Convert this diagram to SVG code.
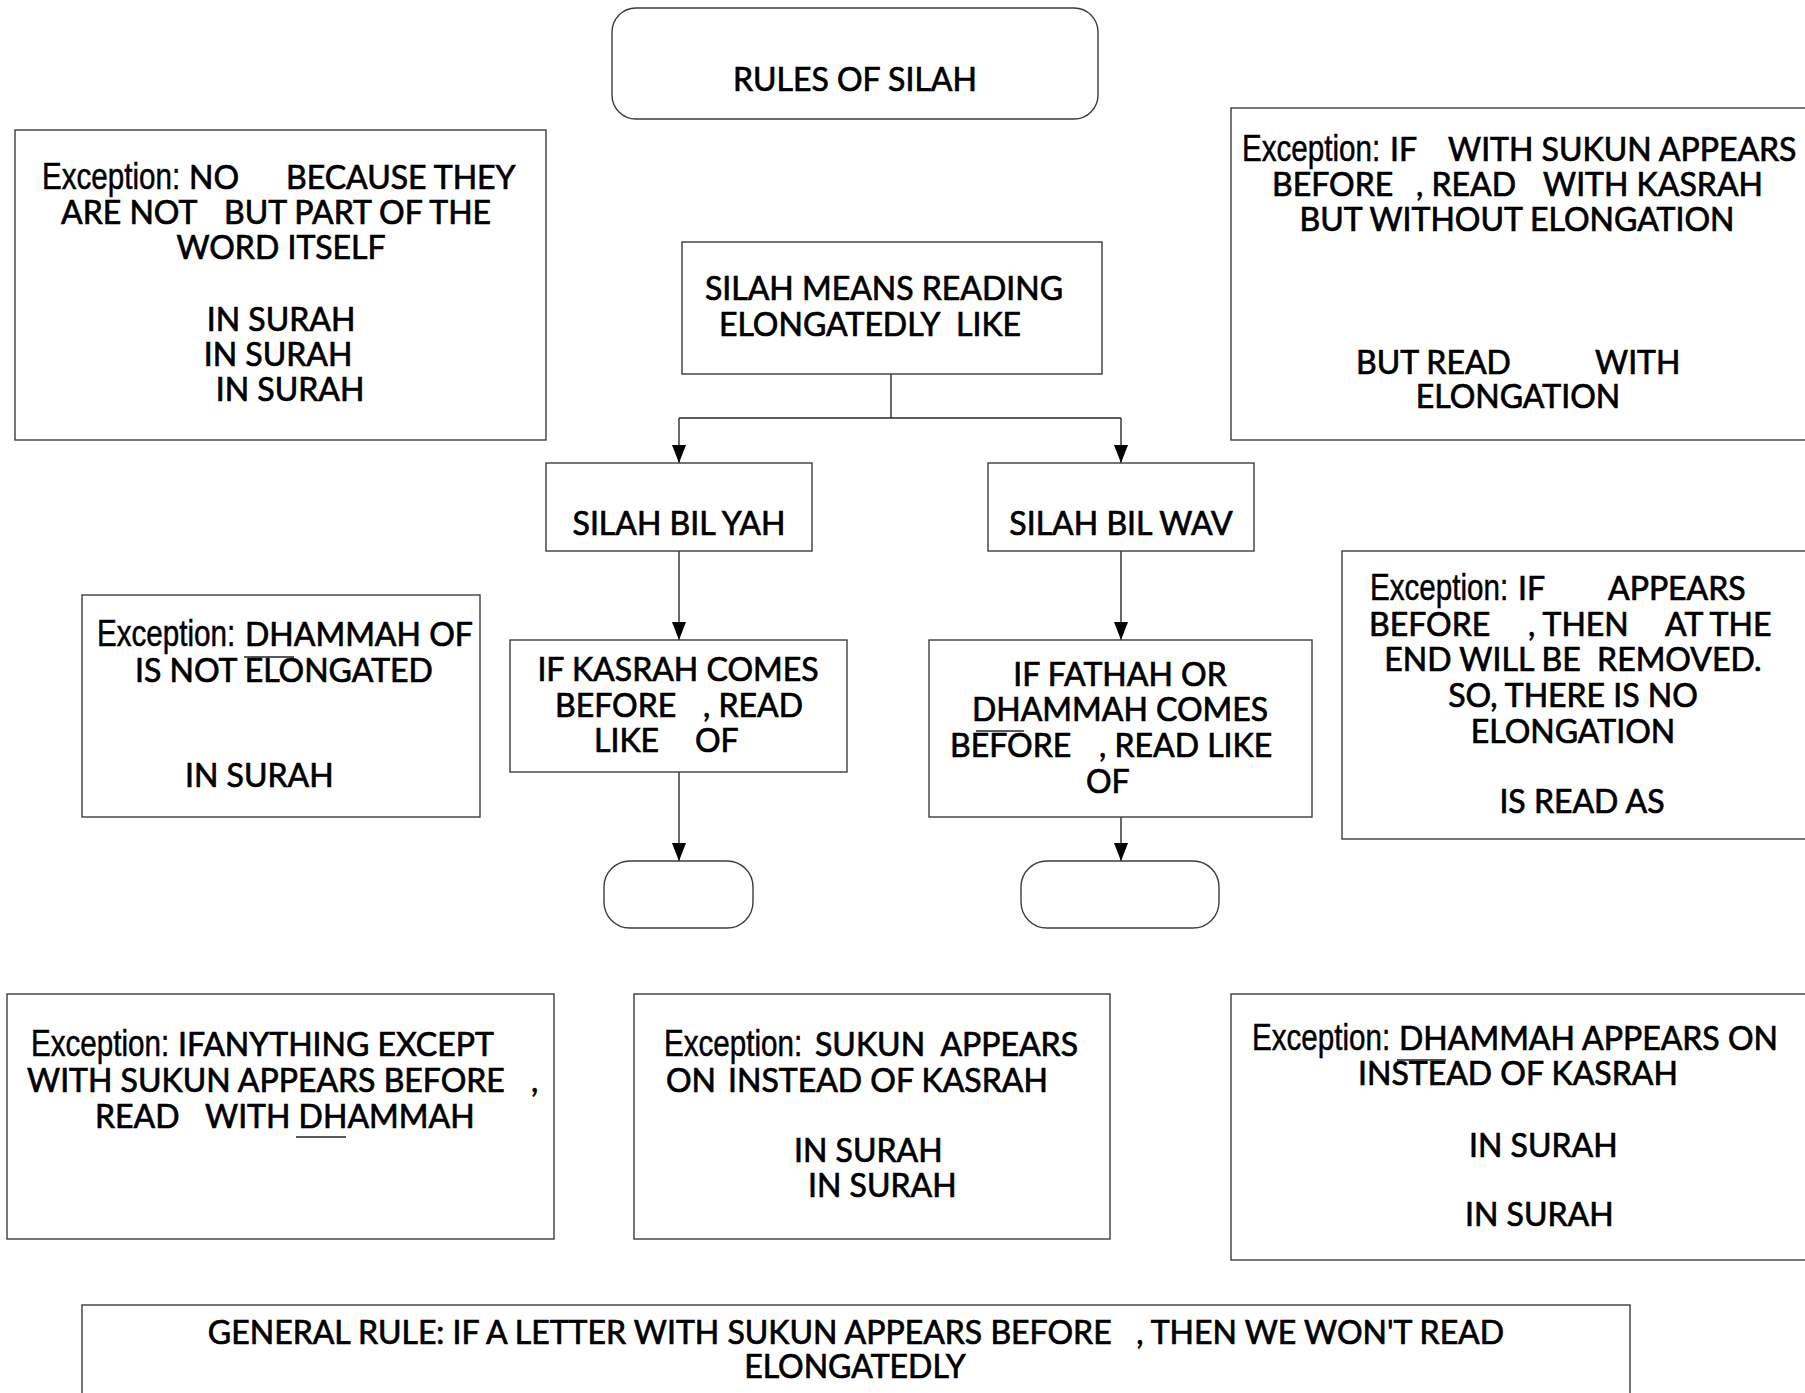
<svg xmlns="http://www.w3.org/2000/svg" width="1805" height="1393" viewBox="0 0 1805 1393">
  <style>
    .box { fill: #ffffff; stroke: #3c3c3c; stroke-width: 1.4; }
    .conn { fill: none; stroke: #2a2a2a; stroke-width: 1.4; }
    .mark { fill: none; stroke: #222222; stroke-width: 1.3; }
    text { font-family: Lato, "Liberation Sans", sans-serif; font-size: 32px; fill: #000000; stroke: #000000; stroke-width: 0.7px; }
    .c { text-anchor: middle; }
    .ex { font-family: "Liberation Sans", Arimo, sans-serif; font-size: 37px; stroke-width: 0.5px; }
  </style>
  <defs>
    <marker id="arrow" markerUnits="userSpaceOnUse" markerWidth="18" markerHeight="14" refX="18" refY="7" orient="auto">
      <path d="M0,0 L18,7 L0,14 Z" fill="#000000"/>
    </marker>
  </defs>

  <rect width="1805" height="1393" fill="#ffffff"/>

  <g id="connectors">
    <path class="conn" d="M891,374 V418"/>
    <path class="conn" d="M679,418 H1121"/>
    <path class="conn" d="M679,418 V463" marker-end="url(#arrow)"/>
    <path class="conn" d="M1121,418 V463" marker-end="url(#arrow)"/>
    <path class="conn" d="M679,551 V640" marker-end="url(#arrow)"/>
    <path class="conn" d="M1121,551 V640" marker-end="url(#arrow)"/>
    <path class="conn" d="M679,772 V861" marker-end="url(#arrow)"/>
    <path class="conn" d="M1121,817 V861" marker-end="url(#arrow)"/>
  </g>

  <g id="title">
    <rect class="box" x="612" y="8" width="486" height="111" rx="24" ry="24"/>
    <text class="c" x="855" y="91">RULES OF SILAH</text>
  </g>

  <g id="definition">
    <rect class="box" x="682" y="242" width="420" height="132"/>
    <text class="c" x="884" y="300">SILAH MEANS READING</text>
    <text y="336"><tspan x="719">ELONGATEDLY</tspan><tspan x="956">LIKE</tspan></text>
  </g>

  <g id="silah-bil-yah">
    <rect class="box" x="546" y="463" width="266" height="88"/>
    <text class="c" x="679" y="535">SILAH BIL YAH</text>
  </g>

  <g id="silah-bil-wav">
    <rect class="box" x="988" y="463" width="266" height="88"/>
    <text class="c" x="1121" y="535">SILAH BIL WAV</text>
  </g>

  <g id="kasrah-rule">
    <rect class="box" x="510" y="640" width="337" height="132"/>
    <text class="c" x="678" y="681">IF KASRAH COMES</text>
    <text y="717"><tspan x="555">BEFORE</tspan><tspan x="703">, READ</tspan></text>
    <text y="752"><tspan x="594">LIKE</tspan><tspan x="695">OF</tspan></text>
  </g>

  <g id="fathah-dhammah-rule">
    <rect class="box" x="929" y="640" width="383" height="177"/>
    <text class="c" x="1120" y="686">IF FATHAH OR</text>
    <text class="c" x="1120" y="721">DHAMMAH COMES</text>
    <text y="757"><tspan x="950">BEFORE</tspan><tspan x="1099">, READ LIKE</tspan></text>
    <text y="793"><tspan x="1086">OF</tspan></text>
    <path class="mark" d="M976,731 H1024"/>
  </g>

  <g id="yah-result">
    <rect class="box" x="604" y="861" width="149" height="67" rx="26" ry="26"/>
  </g>

  <g id="wav-result">
    <rect class="box" x="1021" y="861" width="198" height="67" rx="26" ry="26"/>
  </g>

  <g id="exception-word-itself">
    <rect class="box" x="15" y="130" width="531" height="310"/>
    <text class="ex" transform="translate(42 189) scale(0.8 1)">Exception:</text>
    <text y="189"><tspan x="189">NO</tspan><tspan x="286">BECAUSE THEY</tspan></text>
    <text y="224"><tspan x="61">ARE NOT</tspan><tspan x="224">BUT PART OF THE</tspan></text>
    <text class="c" x="281" y="259">WORD ITSELF</text>
    <text class="c" x="281" y="331">IN SURAH</text>
    <text class="c" x="278" y="366">IN SURAH</text>
    <text class="c" x="290" y="401">IN SURAH</text>
  </g>

  <g id="exception-sukun-kasrah">
    <rect class="box" x="1231" y="108" width="576" height="332"/>
    <text class="ex" transform="translate(1242 161) scale(0.8 1)">Exception:</text>
    <text y="161"><tspan x="1390">IF</tspan><tspan x="1448">WITH SUKUN APPEARS</tspan></text>
    <text y="196"><tspan x="1272">BEFORE</tspan><tspan x="1416">, READ</tspan><tspan x="1543">WITH KASRAH</tspan></text>
    <text class="c" x="1517" y="231">BUT WITHOUT ELONGATION</text>
    <text y="374"><tspan x="1356">BUT READ</tspan><tspan x="1595">WITH</tspan></text>
    <text class="c" x="1518" y="408">ELONGATION</text>
  </g>

  <g id="exception-dhammah-not-elongated">
    <rect class="box" x="82" y="595" width="398" height="222"/>
    <text class="ex" transform="translate(97 646) scale(0.8 1)">Exception:</text>
    <text y="646"><tspan x="245">DHAMMAH OF</tspan></text>
    <text class="c" x="284" y="682">IS NOT ELONGATED</text>
    <text y="787"><tspan x="185">IN SURAH</tspan></text>
    <path class="mark" d="M244,657 H294"/>
  </g>

  <g id="exception-removed">
    <rect class="box" x="1342" y="551" width="465" height="288"/>
    <text class="ex" transform="translate(1370 600) scale(0.8 1)">Exception:</text>
    <text y="600"><tspan x="1518">IF</tspan><tspan x="1608">APPEARS</tspan></text>
    <text y="636"><tspan x="1369">BEFORE</tspan><tspan x="1528">, THEN</tspan><tspan x="1665">AT THE</tspan></text>
    <text class="c" x="1573" y="671" xml:space="preserve">END WILL BE  REMOVED.</text>
    <text class="c" x="1573" y="707">SO, THERE IS NO</text>
    <text class="c" x="1573" y="743">ELONGATION</text>
    <text class="c" x="1582" y="813">IS READ AS</text>
  </g>

  <g id="exception-read-dhammah">
    <rect class="box" x="7" y="994" width="547" height="245"/>
    <text class="ex" transform="translate(31 1056) scale(0.8 1)">Exception:</text>
    <text y="1056"><tspan x="178">IFANYTHING EXCEPT</tspan></text>
    <text y="1092"><tspan x="27">WITH SUKUN APPEARS BEFORE</tspan><tspan x="531">,</tspan></text>
    <text y="1128"><tspan x="95">READ</tspan><tspan x="205">WITH DHAMMAH</tspan></text>
    <path class="mark" d="M296,1137 H346"/>
  </g>

  <g id="exception-sukun-instead">
    <rect class="box" x="634" y="994" width="476" height="245"/>
    <text class="ex" transform="translate(664 1056) scale(0.8 1)">Exception:</text>
    <text y="1056" xml:space="preserve"><tspan x="815">SUKUN  APPEARS</tspan></text>
    <text y="1092"><tspan x="666">ON</tspan><tspan x="728">INSTEAD OF KASRAH</tspan></text>
    <text y="1162"><tspan x="794">IN SURAH</tspan></text>
    <text y="1197"><tspan x="808">IN SURAH</tspan></text>
  </g>

  <g id="exception-dhammah-instead">
    <rect class="box" x="1231" y="994" width="576" height="266"/>
    <text class="ex" transform="translate(1252 1050) scale(0.8 1)">Exception:</text>
    <text y="1050"><tspan x="1399">DHAMMAH APPEARS ON</tspan></text>
    <text y="1085"><tspan x="1358">INSTEAD OF KASRAH</tspan></text>
    <path class="mark" d="M1397,1060 H1446"/>
    <text y="1157"><tspan x="1469">IN SURAH</tspan></text>
    <text y="1226"><tspan x="1465">IN SURAH</tspan></text>
  </g>

  <g id="general-rule">
    <rect class="box" x="82" y="1305" width="1548" height="120"/>
    <text class="c" x="856" y="1344" xml:space="preserve">GENERAL RULE: IF A LETTER WITH SUKUN APPEARS BEFORE   , THEN WE WON'T READ</text>
    <text class="c" x="855" y="1378">ELONGATEDLY</text>
  </g>
</svg>
